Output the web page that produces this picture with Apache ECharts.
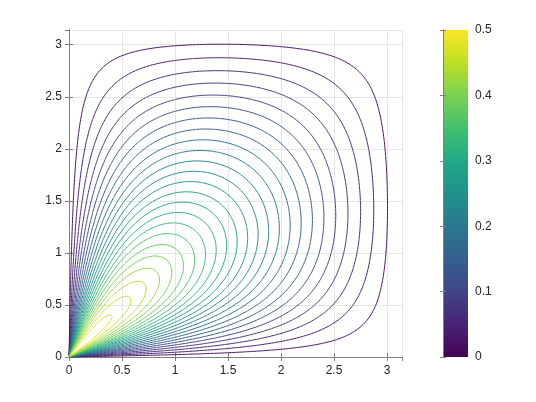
<!DOCTYPE html>
<html>
<head>
<meta charset="utf-8">
<script src="https://cdn.jsdelivr.net/npm/echarts@6/dist/echarts.min.js"></script>
<style>
  html, body { margin: 0; padding: 0; background: #fff; }
  #chart { width: 536px; height: 402px; }
</style>
</head>
<body>
<div id="chart"></div>
<script>
// axis ticks
const xTicks = [0, 0.5, 1, 1.5, 2, 2.5, 3];
const yTicks = [0, 0.5, 1, 1.5, 2, 2.5, 3];
const barTicks = [0, 0.1, 0.2, 0.3, 0.4, 0.5];

// contour levels
const levels = [
  0.02, 0.04, 0.06, 0.08, 0.10, 0.12, 0.14, 0.16, 0.18, 0.20,
  0.22, 0.24, 0.26, 0.28, 0.30, 0.32, 0.34, 0.36, 0.38, 0.40,
  0.42, 0.44, 0.46, 0.48
];

const viridis = ['#440154', '#482475', '#414487', '#355f8d', '#2a788e', '#21918c',
  '#22a884', '#44bf70', '#7ad151', '#bddf26', '#fde725'];
const zMin = 0, zMax = 0.5;

// plotted surface on [0, pi] x [0, pi]:
// z = x y cos(x/2) cos(y/2) / (x^2 + y^2)   (undefined at the origin)
const N = 240;
const gx = [];
for (let i = 0; i <= N; i++) gx.push(Math.PI * i / N);
const Z = [];
for (let i = 0; i <= N; i++) {
  const row = [];
  for (let j = 0; j <= N; j++) {
    const x = gx[i], y = gx[j];
    const r2 = x * x + y * y;
    row.push(r2 === 0 ? NaN : x * y * Math.cos(x / 2) * Math.cos(y / 2) / r2);
  }
  Z.push(row);
}

function hexToRgb(h) {
  return [parseInt(h.slice(1, 3), 16), parseInt(h.slice(3, 5), 16), parseInt(h.slice(5, 7), 16)];
}
function colorAt(v) {
  let t = (v - zMin) / (zMax - zMin) * (viridis.length - 1);
  t = Math.max(0, Math.min(viridis.length - 1, t));
  const k = Math.min(viridis.length - 2, Math.floor(t));
  const f = t - k;
  const a = hexToRgb(viridis[k]), b = hexToRgb(viridis[k + 1]);
  return 'rgb(' + a.map((c, n) => Math.round(c + (b[n] - c) * f)).join(',') + ')';
}

// marching squares (saddles split by the cell mean), then join segments into polylines
function contourLines(lv) {
  const pts = {};
  const adj = {};
  const segs = [];
  function edgePoint(key, i0, j0, i1, j1) {
    if (!pts[key]) {
      const z0 = Z[i0][j0], z1 = Z[i1][j1];
      const f = (lv - z0) / (z1 - z0);
      pts[key] = [gx[i0] + (gx[i1] - gx[i0]) * f, gx[j0] + (gx[j1] - gx[j0]) * f];
    }
    return key;
  }
  for (let i = 0; i < N; i++) {
    for (let j = 0; j < N; j++) {
      const a = Z[i][j], b = Z[i + 1][j], c = Z[i + 1][j + 1], d = Z[i][j + 1];
      if (isNaN(a) || isNaN(b) || isNaN(c) || isNaN(d)) continue;
      const hits = [];
      if ((a >= lv) !== (b >= lv)) hits.push(edgePoint('h' + i + '_' + j, i, j, i + 1, j));
      if ((b >= lv) !== (c >= lv)) hits.push(edgePoint('v' + (i + 1) + '_' + j, i + 1, j, i + 1, j + 1));
      if ((d >= lv) !== (c >= lv)) hits.push(edgePoint('h' + i + '_' + (j + 1), i, j + 1, i + 1, j + 1));
      if ((a >= lv) !== (d >= lv)) hits.push(edgePoint('v' + i + '_' + j, i, j, i, j + 1));
      if (hits.length === 2) {
        segs.push([hits[0], hits[1]]);
      } else if (hits.length === 4) {
        const centreHigh = (a + b + c + d) / 4 >= lv;
        if ((a >= lv) === centreHigh) {
          segs.push([hits[0], hits[1]]);
          segs.push([hits[2], hits[3]]);
        } else {
          segs.push([hits[0], hits[3]]);
          segs.push([hits[1], hits[2]]);
        }
      }
    }
  }
  segs.forEach((s, n) => {
    (adj[s[0]] = adj[s[0]] || []).push(n);
    (adj[s[1]] = adj[s[1]] || []).push(n);
  });
  const used = new Array(segs.length).fill(false);
  const lines = [];
  function walk(startKey) {
    const path = [pts[startKey]];
    let key = startKey;
    while (true) {
      const next = (adj[key] || []).find(n => !used[n]);
      if (next === undefined) break;
      used[next] = true;
      key = segs[next][0] === key ? segs[next][1] : segs[next][0];
      path.push(pts[key]);
    }
    return path;
  }
  Object.keys(adj).forEach(key => {
    if (adj[key].length === 1 && !used[adj[key][0]]) lines.push(walk(key));
  });
  segs.forEach((s, n) => {
    if (!used[n]) lines.push(walk(s[0]));
  });
  return lines;
}

const contourData = [];
levels.forEach(lv => {
  const col = colorAt(lv);
  contourLines(lv).forEach(path => {
    if (path.length > 1) contourData.push({ coords: path, lineStyle: { color: col } });
  });
});

const textStyle = { color: '#262626', fontSize: 12, fontFamily: 'Liberation Sans, Arial, sans-serif' };
const frame = { show: true, lineStyle: { color: '#808080', width: 1 } };
const inTick = { show: true, inside: true, length: 4, lineStyle: { color: '#808080' } };

const myChart = echarts.init(document.getElementById('chart'));
myChart.setOption({
  animation: false,
  backgroundColor: '#fff',
  grid: [
    { left: 69, top: 30, width: 333, height: 327 },
    { left: 443, top: 30, width: 25, height: 327 },
  ],
  xAxis: [
    {
      type: 'value', gridIndex: 0, min: 0, max: Math.PI, interval: 0.5,
      axisLine: frame, axisTick: inTick,
      axisLabel: Object.assign({ margin: 8, showMaxLabel: false,
        formatter: v => (xTicks.includes(v) ? String(v) : '') }, textStyle),
      splitLine: { show: true, lineStyle: { color: '#e6e6e6', width: 1 } },
    },
    {
      type: 'value', gridIndex: 0, position: 'top', min: 0, max: Math.PI, interval: 0.5,
      axisLine: frame, axisTick: inTick, axisLabel: { show: false }, splitLine: { show: false },
    },
    { type: 'value', gridIndex: 1, min: 0, max: 1, show: false },
  ],
  yAxis: [
    {
      type: 'value', gridIndex: 0, min: 0, max: Math.PI, interval: 0.5,
      axisLine: frame, axisTick: inTick,
      axisLabel: Object.assign({ margin: 7, showMaxLabel: false,
        formatter: v => (yTicks.includes(v) ? String(v) : '') }, textStyle),
      splitLine: { show: true, lineStyle: { color: '#e6e6e6', width: 1 } },
    },
    {
      type: 'value', gridIndex: 0, position: 'right', min: 0, max: Math.PI, interval: 0.5,
      axisLine: frame, axisTick: inTick, axisLabel: { show: false }, splitLine: { show: false },
    },
    {
      type: 'value', gridIndex: 1, position: 'right', min: 0, max: 0.5, interval: 0.1, z: 5,
      axisLine: frame, axisTick: Object.assign({}, inTick, { length: 3 }),
      axisLabel: Object.assign({ margin: 7,
        formatter: v => (barTicks.includes(+v.toFixed(1)) ? String(+v.toFixed(1)) : '') }, textStyle),
      splitLine: { show: false },
    },
    {
      type: 'value', gridIndex: 1, position: 'left', min: 0, max: 0.5, interval: 0.1, z: 5,
      axisLine: frame, axisTick: Object.assign({}, inTick, { length: 3 }),
      axisLabel: { show: false }, splitLine: { show: false },
    },
  ],
  series: [
    {
      type: 'lines',
      coordinateSystem: 'cartesian2d',
      xAxisIndex: 0,
      yAxisIndex: 0,
      polyline: true,
      silent: true,
      lineStyle: { width: 1, opacity: 1 },
      data: contourData,
    },
    {
      type: 'custom',
      xAxisIndex: 2,
      yAxisIndex: 2,
      silent: true,
      data: [[0, zMin, 1, zMax]],
      renderItem: (params, api) => {
        const p0 = api.coord([api.value(0), api.value(3)]);
        const p1 = api.coord([api.value(2), api.value(1)]);
        return {
          type: 'rect',
          shape: { x: p0[0], y: p0[1], width: p1[0] - p0[0], height: p1[1] - p0[1] },
          style: {
            fill: new echarts.graphic.LinearGradient(0, 1, 0, 0,
              viridis.map((c, n) => ({ offset: n / (viridis.length - 1), color: c }))),
          },
        };
      },
    },
  ],
});
window.addEventListener('resize', myChart.resize);
</script>
</body>
</html>
